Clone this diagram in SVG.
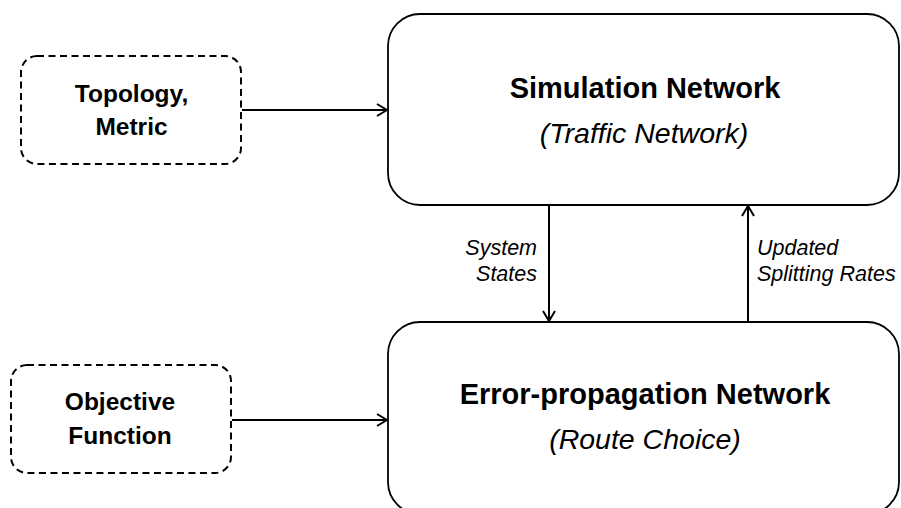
<svg xmlns="http://www.w3.org/2000/svg" width="901" height="508" viewBox="0 0 901 508">
<style>
.box{fill:#fff;stroke:#000;stroke-width:1.8}
.dash{fill:#fff;stroke:#000;stroke-width:2;stroke-dasharray:7,4.5}
.bt{font-family:"Liberation Sans",Arial,sans-serif;font-weight:bold;fill:#000;text-anchor:middle}
.it{font-family:"Liberation Sans",Arial,sans-serif;font-style:italic;fill:#000}
.conn{stroke:#000;stroke-width:2;fill:none}
</style>
<defs>
<marker id="arr" viewBox="0 0 12 14" refX="11" refY="7" markerWidth="12" markerHeight="14" markerUnits="userSpaceOnUse" orient="auto">
<path d="M1,1 L11,7 L1,13" fill="none" stroke="#000" stroke-width="2"/>
</marker>
</defs>
<rect width="901" height="508" fill="#fff"/>
<g id="connectors">
<line class="conn" x1="242" y1="110" x2="387" y2="110" marker-end="url(#arr)"/>
<line class="conn" x1="232" y1="420" x2="387" y2="420" marker-end="url(#arr)"/>
<line class="conn" x1="549" y1="206" x2="549" y2="321" marker-end="url(#arr)"/>
<line class="conn" x1="748" y1="321" x2="748" y2="206" marker-end="url(#arr)"/>
<text class="it" font-size="21.5" text-anchor="end" x="537" y="255">System</text>
<text class="it" font-size="21.5" text-anchor="end" x="537" y="281">States</text>
<text class="it" font-size="21.5" x="757" y="255">Updated</text>
<text class="it" font-size="21.5" x="757" y="281">Splitting Rates</text>
</g>
<g id="topology">
<rect class="dash" x="21" y="56" width="220" height="108" rx="16"/>
<text class="bt" font-size="24.5" x="131.5" y="102">Topology,</text>
<text class="bt" font-size="24.5" x="131.5" y="135">Metric</text>
</g>
<g id="objective">
<rect class="dash" x="11" y="365" width="220" height="108" rx="16"/>
<text class="bt" font-size="24.5" x="120" y="410">Objective</text>
<text class="bt" font-size="24.5" x="120" y="444">Function</text>
</g>
<g id="simulation">
<rect class="box" x="388" y="14" width="511" height="191" rx="32"/>
<text class="bt" font-size="29" x="645" y="98">Simulation Network</text>
<text class="it" font-size="28.5" text-anchor="middle" x="644" y="143">(Traffic Network)</text>
</g>
<g id="error">
<rect class="box" x="388" y="322" width="511" height="192" rx="32"/>
<text class="bt" font-size="29" x="645" y="404">Error-propagation Network</text>
<text class="it" font-size="28.5" text-anchor="middle" x="645" y="449">(Route Choice)</text>
</g>
</svg>
